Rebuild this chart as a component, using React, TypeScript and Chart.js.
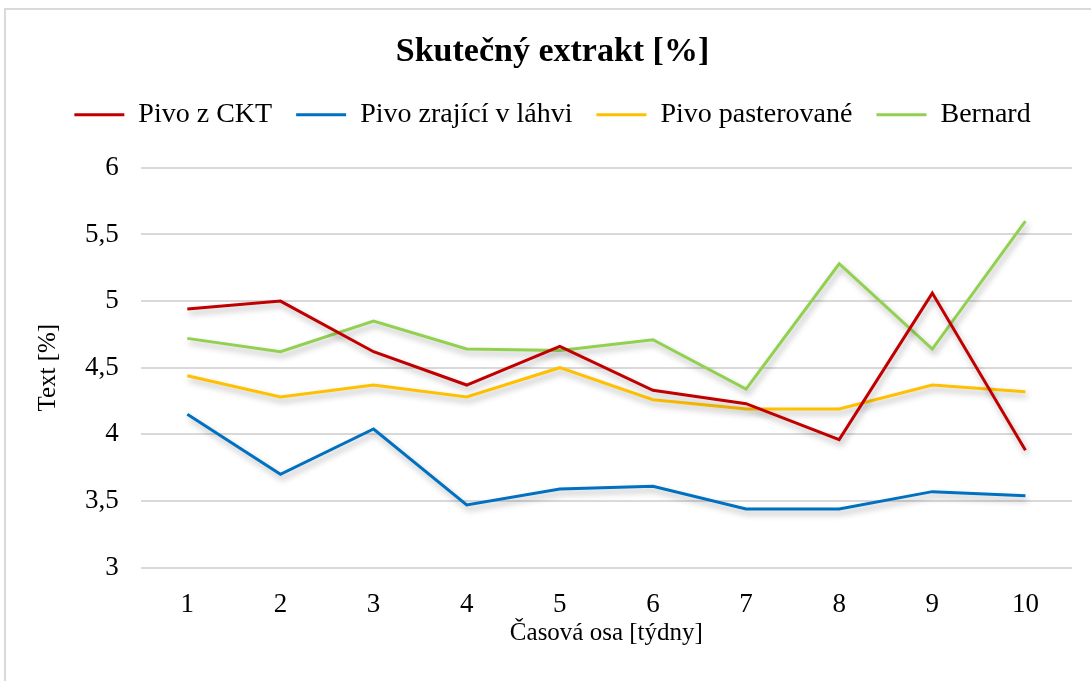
import React, { useEffect, useRef } from "react";
import { Chart, registerables } from "chart.js";

Chart.register(...registerables);

const weeks = ["1", "2", "3", "4", "5", "6", "7", "8", "9", "10"];
const pivoCKT = [4.94, 5.0, 4.62, 4.37, 4.66, 4.33, 4.23, 3.96, 5.06, 3.88];
const pivoZrajici = [4.15, 3.7, 4.04, 3.47, 3.59, 3.61, 3.44, 3.44, 3.57, 3.54];
const pivoPasterovane = [4.44, 4.28, 4.37, 4.28, 4.5, 4.26, 4.19, 4.19, 4.37, 4.32];
const bernard = [4.72, 4.62, 4.85, 4.64, 4.63, 4.71, 4.34, 5.28, 4.64, 5.6];

const seriesNames = ["Pivo z CKT", "Pivo zrající v láhvi", "Pivo pasterované", "Bernard"];
const seriesColors = ["#C00000", "#0070C0", "#FFC000", "#92D050"];

const FONT = "'Liberation Serif', 'Times New Roman', serif";

const shadowPlugin = {
  id: "lineShadow",
  beforeDatasetDraw(chart: any) {
    const ctx = chart.ctx;
    ctx.save();
    ctx.shadowColor = "rgba(0,0,0,0.30)";
    ctx.shadowBlur = 6;
    ctx.shadowOffsetX = 2;
    ctx.shadowOffsetY = 4;
  },
  afterDatasetDraw(chart: any) {
    chart.ctx.restore();
  },
};

const legendMargin = {
  id: "legendMargin",
  beforeInit(chart: any) {
    const legend = chart.legend;
    if (!legend) return;
    const orig = legend.fit;
    legend.fit = function () {
      orig.call(this);
      this.height += 29;
    };
  },
};

export default function App() {
  const ref = useRef<HTMLCanvasElement | null>(null);

  useEffect(() => {
    document.body.style.overflow = "hidden";
    let chart: any = null;
    let cancelled = false;
    const build = () => {
      const canvas = ref.current;
      if (!canvas || cancelled) return;
      const data = [pivoCKT, pivoZrajici, pivoPasterovane, bernard];
      chart = new Chart(canvas, {
        type: "line",
        data: {
          labels: weeks,
          datasets: data.map((d, i) => ({
            label: seriesNames[i],
            data: d,
            borderColor: seriesColors[i],
            backgroundColor: seriesColors[i],
            borderWidth: 3,
            pointRadius: 0,
            tension: 0,
            fill: false,
          })),
        },
        options: {
          animation: false,
          responsive: false,
          maintainAspectRatio: false,
          layout: { padding: { top: 0, left: 33, right: 19, bottom: 33 } },
          plugins: {
            title: {
              display: true,
              text: "Skutečný extrakt [%]",
              color: "#000",
              font: { family: FONT, size: 34, weight: "bold" },
              padding: { top: 32, bottom: 4 },
            },
            legend: {
              display: true,
              position: "top",
              labels: {
                color: "#000",
                font: { family: FONT, size: 28 },
                usePointStyle: true,
                pointStyle: "line",
                pointStyleWidth: 50,
                boxHeight: 28,
                padding: 24,
              },
            },
            tooltip: { enabled: false },
          },
          scales: {
            x: {
              offset: true,
              grid: { display: false, drawTicks: false },
              border: { display: false },
              ticks: {
                color: "#000",
                font: { family: FONT, size: 27 },
                padding: 21,
              },
              title: {
                display: true,
                text: "Časová osa [týdny]",
                color: "#000",
                font: { family: FONT, size: 25 },
                padding: { top: -24, bottom: 0 },
              },
            },
            y: {
              min: 3,
              max: 6,
              grid: { color: "#d9d9d9", lineWidth: 2, drawTicks: false },
              border: { display: false },
              ticks: {
                stepSize: 0.5,
                color: "#000",
                font: { family: FONT, size: 27 },
                padding: 22,
                callback: (v: any) => String(v).replace(".", ","),
              },
              title: {
                display: true,
                text: "Text [%]",
                color: "#000",
                font: { family: FONT, size: 25 },
                padding: { top: 0, bottom: 0 },
              },
            },
          },
        },
        plugins: [shadowPlugin, legendMargin],
      });
    };
    const fonts: any = (document as any).fonts;
    if (fonts && fonts.load) {
      Promise.all([
        fonts.load("28px 'Liberation Serif'"),
        fonts.load("bold 34px 'Liberation Serif'"),
      ])
        .catch(() => null)
        .then(() => build());
    } else {
      build();
    }
    return () => {
      cancelled = true;
      if (chart) chart.destroy();
    };
  }, []);

  return (
    <div style={{ position: "absolute", left: 0, top: 0, width: 1091, height: 681, background: "#fff", overflow: "hidden" }}>
      <div
        style={{
          position: "absolute",
          left: 4,
          top: 8,
          width: 1200,
          height: 800,
          border: "2px solid #d9d9d9",
          boxSizing: "border-box",
        }}
      />
      <canvas ref={ref} width={1091} height={681} style={{ position: "absolute", left: 0, top: 0, width: 1091, height: 681 }} />
    </div>
  );
}
